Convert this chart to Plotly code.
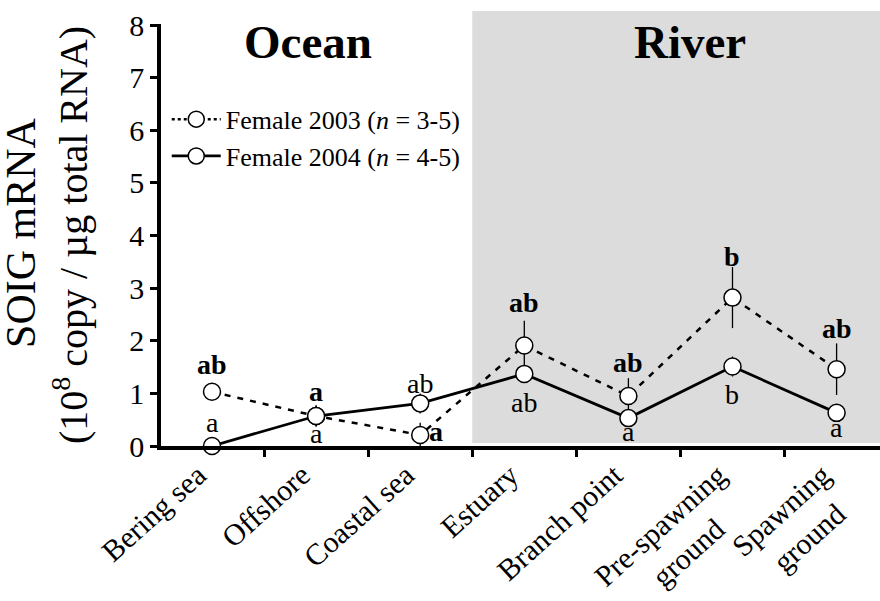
import plotly.graph_objects as go

# Sampling sites along the migration route
sites = ["Bering sea", "Offshore", "Coastal sea", "Estuary", "Branch point",
         "Pre-spawning<br>ground\u00a0\u00a0\u00a0\u00a0\u00a0", "Spawning<br>ground\u00a0\u00a0"]

# SOIG mRNA (10^8 copy / ug total RNA), mean and SEM
female_2003 = [1.03, 0.57, 0.21, 1.91, 0.95, 2.82, 1.46]
female_2003_sem = [0.12, 0.20, 0.23, 0.47, 0.34, 0.58, 0.49]
female_2004 = [0.00, 0.57, 0.81, 1.37, 0.53, 1.51, 0.63]
female_2004_sem = [0.05, 0.20, 0.19, 0.15, 0.12, 0.19, 0.10]

# Significance letters
letters_2003 = ["ab", "a", "a", "ab", "ab", "b", "ab"]
letters_2004 = ["a", "a", "ab", "ab", "a", "b", "a"]

# Pixel offsets (dx, dy) of each letter relative to its marker
offsets_2003 = [(0, 27), (0, 25), (16, 3), (0, 43), (0, 34), (0, 41), (0, 41)]
offsets_2004 = [(0, 24), (0, -17), (0, 20), (0, -29), (0, -13), (0, -28), (0, -15)]

FONT = "Liberation Serif"
BLACK = "#000000"

marker_style = dict(symbol="circle", size=17, color="white",
                    line=dict(color=BLACK, width=1.5))

fig = go.Figure()

fig.add_trace(go.Scatter(
    x=sites, y=female_2003, mode="lines+markers", showlegend=False,
    line=dict(color=BLACK, width=2.5, dash="6px,7px"),
    marker=marker_style,
    error_y=dict(type="data", array=female_2003_sem, visible=True,
                 color=BLACK, thickness=1.3, width=0),
    cliponaxis=False,
))

fig.add_trace(go.Scatter(
    x=sites, y=female_2004, mode="lines+markers", showlegend=False,
    line=dict(color=BLACK, width=2.8),
    marker=marker_style,
    error_y=dict(type="data", array=female_2004_sem, visible=True,
                 color=BLACK, thickness=1.3, width=0),
    cliponaxis=False,
))

# Legend entries (dotted key for 2003, solid key for 2004)
fig.add_trace(go.Scatter(
    x=[None], y=[None], mode="lines+markers",
    name="Female 2003 (<i>n</i> = 3-5)",
    line=dict(color=BLACK, width=2.5, dash="dot"), marker=marker_style,
))
fig.add_trace(go.Scatter(
    x=[None], y=[None], mode="lines+markers",
    name="Female 2004 (<i>n</i> = 4-5)",
    line=dict(color=BLACK, width=2.8), marker=marker_style,
))

annotations = []
for i, site in enumerate(sites):
    dx, dy = offsets_2003[i]
    annotations.append(dict(
        x=site, y=female_2003[i], xref="x", yref="y",
        text="<b>%s</b>" % letters_2003[i], showarrow=False,
        xshift=dx, yshift=dy, xanchor="center", yanchor="middle",
        font=dict(family=FONT, size=28, color=BLACK)))
    dx, dy = offsets_2004[i]
    annotations.append(dict(
        x=site, y=female_2004[i], xref="x", yref="y",
        text=letters_2004[i], showarrow=False,
        xshift=dx, yshift=dy, xanchor="center", yanchor="middle",
        font=dict(family=FONT, size=28, color=BLACK)))

# Habitat headings
annotations.append(dict(x=0.92, y=0.958, xref="x", yref="paper", text="<b>Ocean</b>",
                        showarrow=False, xanchor="center", yanchor="middle",
                        font=dict(family=FONT, size=47, color=BLACK)))
annotations.append(dict(x=4.59, y=0.958, xref="x", yref="paper", text="<b>River</b>",
                        showarrow=False, xanchor="center", yanchor="middle",
                        font=dict(family=FONT, size=47, color=BLACK)))

# Y axis title, one annotation per line
annotations.append(dict(x=-0.1947, y=0.505, xref="paper", yref="paper",
                        text="SOIG mRNA", textangle=-90, showarrow=False,
                        xanchor="center", yanchor="middle",
                        font=dict(family=FONT, size=42, color=BLACK)))
annotations.append(dict(x=-0.1266, y=0.5, xref="paper", yref="paper",
                        text="(10<sup>8</sup> copy / µg total RNA)",
                        textangle=-90, showarrow=False,
                        xanchor="center", yanchor="middle",
                        font=dict(family=FONT, size=40, color=BLACK)))

fig.update_layout(
    width=880, height=601,
    margin=dict(l=161, r=0, t=24, b=155, autoexpand=False),
    paper_bgcolor="white", plot_bgcolor="white",
    font=dict(family=FONT, size=26, color=BLACK),
    showlegend=True,
    legend=dict(x=0.008, y=0.83, xanchor="left", yanchor="top",
                bgcolor="rgba(0,0,0,0)", font=dict(family=FONT, size=26),
                itemwidth=49, tracegroupgap=0),
    annotations=annotations,
    shapes=[dict(type="rect", xref="x", yref="paper", x0=2.5, x1=6.6,
                 y0=0.007, y1=1.031, fillcolor="#dcdcdc", line=dict(width=0),
                 layer="below")],
)

fig.update_xaxes(
    type="category", range=[-0.49, 6.417], tickson="boundaries",
    automargin=False,
    showline=True, linecolor=BLACK, linewidth=3.5,
    ticks="outside", ticklen=7, tickwidth=2.5, tickcolor=BLACK,
    tickangle=-42, tickfont=dict(family=FONT, size=30, color=BLACK),
    ticklabelshift=-14, ticklabelstandoff=-4,
    showgrid=False, zeroline=False,
)
fig.update_yaxes(
    range=[0, 8.02], dtick=1, tick0=0, automargin=False,
    showline=True, linecolor=BLACK, linewidth=3.5,
    ticks="outside", ticklen=7, tickwidth=2.5, tickcolor=BLACK,
    tickfont=dict(family=FONT, size=30, color=BLACK),
    showgrid=False, zeroline=False,
)

fig.write_html("out.html")
